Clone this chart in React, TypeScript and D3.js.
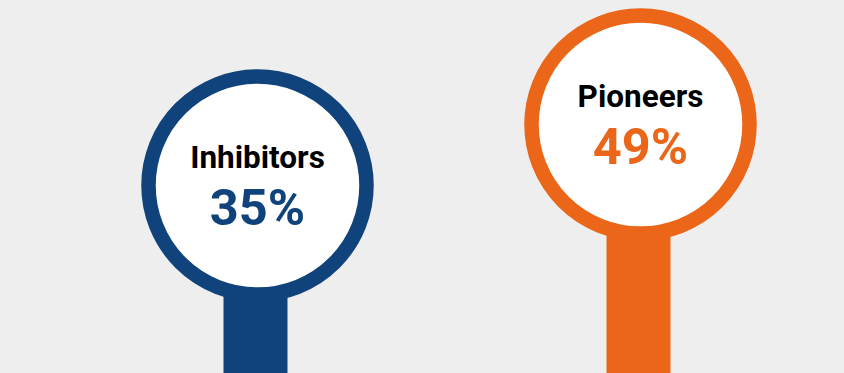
import React from "react";
import * as d3 from "d3";

const categories = ["Inhibitors", "Pioneers"];
const values = [35, 49];
const colors = ["#10437c", "#eb6619"];

const W = 844;
const H = 373;

export default function App() {
  const x = d3.scalePoint<string>().domain(categories).range([66, 832]).padding(0.5);
  const y = d3.scaleLinear().domain([0, 50]).range([338, 120.2]);
  const R = 109;
  const SW = 14.5;
  const stemW = 64;
  return (
    <svg
      width={W}
      height={H}
      style={{ position: "absolute", left: 0, top: 0, display: "block" }}
      fontFamily="Roboto, sans-serif"
    >
      <rect x={0} y={0} width={W} height={H} fill="#eeeeee" />
      {categories.map((c, i) => {
        const cx = x(c) as number;
        const cy = y(values[i]);
        return (
          <g key={c}>
            <rect x={cx - stemW / 2 - 2} y={cy} width={stemW} height={H - cy + 10} fill={colors[i]} />
            <circle cx={cx} cy={cy} r={R} fill="#ffffff" stroke={colors[i]} strokeWidth={SW} />
            <text x={cx} y={cy - 18} textAnchor="middle" fontSize={31.5} fontWeight={700} fill="#000000">
              {c}
            </text>
            <text x={cx} y={cy + 39.5} textAnchor="middle" fontSize={50.5} fontWeight={700} fill={colors[i]}>
              {`${values[i]}%`}
            </text>
          </g>
        );
      })}
    </svg>
  );
}
